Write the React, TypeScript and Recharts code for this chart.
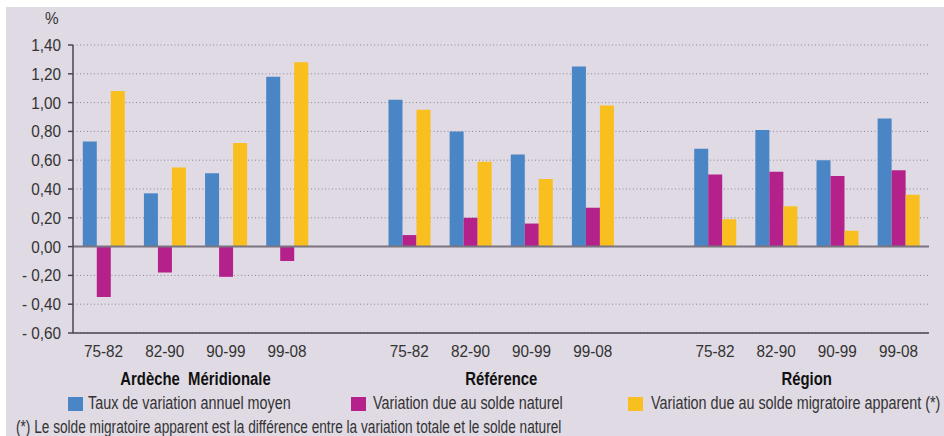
import React from 'react';
import { BarChart, Bar, XAxis, YAxis, CartesianGrid, ReferenceLine } from 'recharts';

const periods = ['75-82', '82-90', '90-99', '99-08'];
const zones = ['Ardèche  Méridionale', 'Référence', 'Région'];

const tauxVariation = [
  [0.73, 0.37, 0.51, 1.18],
  [1.02, 0.80, 0.64, 1.25],
  [0.68, 0.81, 0.60, 0.89],
];
const soldeNaturel = [
  [-0.35, -0.18, -0.21, -0.10],
  [0.08, 0.20, 0.16, 0.27],
  [0.50, 0.52, 0.49, 0.53],
];
const soldeMigratoire = [
  [1.08, 0.55, 0.72, 1.28],
  [0.95, 0.59, 0.47, 0.98],
  [0.19, 0.28, 0.11, 0.36],
];

const yTicks = [-0.6, -0.4, -0.2, 0, 0.2, 0.4, 0.6, 0.8, 1.0, 1.2, 1.4];

const seriesNames = [
  'Taux de variation annuel moyen',
  'Variation due au solde naturel',
  'Variation due au solde migratoire apparent (*)',
];
const footnote = '(*) Le solde migratoire apparent est la différence entre la variation totale et le solde naturel';

const COLORS = ['#4A86C6', '#B5218B', '#F9BF1E'];
const FONT = '"Liberation Sans", Arial, sans-serif';
const TEXT = '#333333';
const AXIS = '#4a4650';

type Row = { key: string; label: string; taux: number | null; naturel: number | null; migratoire: number | null };
const data: Row[] = [];
zones.forEach((z, zi) => {
  periods.forEach((p, pi) => {
    data.push({
      key: `${zi}-${p}`,
      label: p,
      taux: tauxVariation[zi][pi],
      naturel: soldeNaturel[zi][pi],
      migratoire: soldeMigratoire[zi][pi],
    });
  });
  if (zi < zones.length - 1) {
    data.push({ key: `gap-${zi}`, label: '', taux: null, naturel: null, migratoire: null });
  }
});

const fmt = (v: number) => {
  const s = Math.abs(v).toFixed(2).replace('.', ',');
  return v < -1e-9 ? `- ${s}` : s;
};

const W = 944;
const H = 436;
const PLOT_LEFT = 73;
const PLOT_RIGHT = 929;
const slot = (PLOT_RIGHT - PLOT_LEFT) / data.length;

const YTick = (props: any) => {
  const { x, y, payload } = props;
  return (
    <g transform={`translate(${x},${y})`}>
      <text transform="scale(0.9,1)" textAnchor="end" dy="0.355em" fontSize={17} fill={TEXT} fontFamily={FONT}>
        {fmt(payload.value)}
      </text>
    </g>
  );
};

const XTick = (props: any) => {
  const { x, y, index } = props;
  const label = data[index]?.label ?? '';
  return (
    <g transform={`translate(${x},${y})`}>
      <text transform="scale(0.9,1)" textAnchor="middle" dy="0.71em" fontSize={17} fill={TEXT} fontFamily={FONT}>
        {label}
      </text>
    </g>
  );
};

const Narrow = ({ children, s, origin = 'left center' }: { children: React.ReactNode; s: number; origin?: string }) => (
  <span style={{ display: 'inline-block', transform: `scaleX(${s})`, transformOrigin: origin, whiteSpace: 'pre' }}>{children}</span>
);

export default function App() {
  return (
    <div style={{ position: 'absolute', left: 0, top: 0, width: W, height: H, background: '#ffffff', overflow: 'hidden' }}>
      <div style={{ position: 'absolute', left: 6, top: 7, right: 0, bottom: 0, background: '#DFDAE3' }} />
      <div style={{ position: 'absolute', left: 0, top: 0 }}>
        <BarChart
          width={W}
          height={H}
          data={data}
          margin={{ top: 45, right: 15, left: 13, bottom: 73 }}
          barCategoryGap="16%"
          barGap={0}
        >
          <CartesianGrid vertical={false} stroke="#8d8893" strokeDasharray="1 2.5" />
          <XAxis
            dataKey="key"
            interval={0}
            tickLine={false}
            tickSize={0}
            tickMargin={12}
            height={30}
            axisLine={{ stroke: AXIS, strokeWidth: 1.5 }}
            tick={<XTick />}
          />
          <XAxis xAxisId="top" orientation="top" dataKey="key" height={0} tick={false} tickLine={false} axisLine={{ stroke: AXIS, strokeWidth: 1.5 }} />
          <YAxis
            domain={[-0.6, 1.4]}
            ticks={yTicks}
            interval={0}
            width={60}
            tickSize={5}
            tickMargin={7}
            allowDataOverflow
            axisLine={{ stroke: AXIS, strokeWidth: 1.5 }}
            tickLine={{ stroke: AXIS, strokeWidth: 1.5 }}
            tick={<YTick />}
          />
          <YAxis yAxisId="right" orientation="right" domain={[-0.6, 1.4]} width={0} tick={false} tickLine={false} axisLine={{ stroke: AXIS, strokeWidth: 1.5 }} />
          <Bar dataKey="taux" fill={COLORS[0]} isAnimationActive={false} />
          <Bar dataKey="naturel" fill={COLORS[1]} isAnimationActive={false} />
          <Bar dataKey="migratoire" fill={COLORS[2]} isAnimationActive={false} />
          <ReferenceLine y={0} stroke="#7a7580" strokeWidth={2} />
        </BarChart>
      </div>
      <div style={{ position: 'absolute', left: 45, top: 9, fontFamily: FONT, fontSize: 17, color: TEXT }}>
        <Narrow s={0.9}>%</Narrow>
      </div>
      {zones.map((z, zi) => (
        <div
          key={z}
          style={{
            position: 'absolute',
            left: PLOT_LEFT + slot * (zi * 5 + 2) - 150,
            width: 300,
            top: 369,
            textAlign: 'center',
            fontFamily: FONT,
            fontWeight: 'bold',
            fontSize: 17.5,
            color: '#111111',
          }}
        >
          <Narrow s={0.85} origin="center center">{z}</Narrow>
        </div>
      ))}
      {seriesNames.map((n, i) => (
        <div
          key={n}
          style={{
            position: 'absolute',
            left: [68, 351, 628][i],
            top: 393,
            display: 'flex',
            alignItems: 'center',
            fontFamily: FONT,
            fontSize: 17.5,
            color: TEXT,
            whiteSpace: 'nowrap',
          }}
        >
          <span style={{ display: 'inline-block', width: 15, height: 14, background: COLORS[i], marginRight: [5, 7, 8][i] }} />
          <Narrow s={0.82}>{n}</Narrow>
        </div>
      ))}
      <div style={{ position: 'absolute', left: 16, top: 417, fontFamily: FONT, fontSize: 17.5, color: TEXT, whiteSpace: 'nowrap' }}>
        <Narrow s={0.78}>{footnote}</Narrow>
      </div>
    </div>
  );
}
